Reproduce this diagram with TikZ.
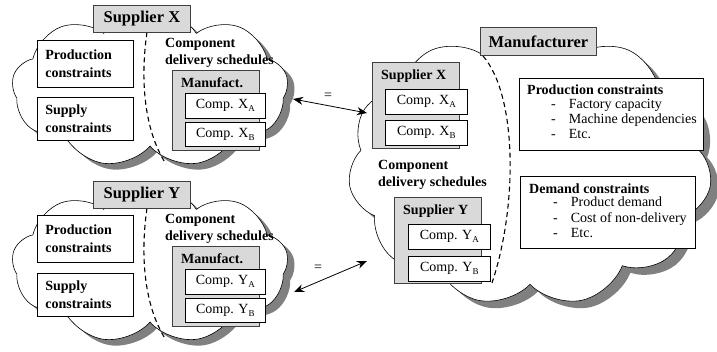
\documentclass[tikz,border=0pt]{standalone}
\usepackage{fontspec}
\setmainfont{Liberation Serif}
\usetikzlibrary{shapes.symbols,arrows.meta}

\definecolor{boxgrey}{HTML}{D9D9D9}
\definecolor{shadowgrey}{HTML}{808080}
\definecolor{edgegrey}{HTML}{404040}

% small lowered index letter for component names
\newcommand{\lowidx}[1]{\raisebox{-0.4ex}{\fontsize{9}{9}\selectfont #1}}

\begin{document}
\begin{tikzpicture}[x=1pt,y=-1pt,
  puff/.style={cloud, cloud puff arc=115, inner sep=0pt, cloud ignores aspect},
  cloudbody/.style={puff, draw=black, line width=0.6pt, fill=white},
  cloudshade/.style={puff, fill=shadowgrey, draw=none},
  titlebox/.style={draw=edgegrey, fill=boxgrey, line width=0.8pt, inner sep=0pt,
    font=\fontsize{16.5}{18}\selectfont\bfseries, anchor=north west},
  groupbox/.style={draw=edgegrey, fill=boxgrey, line width=0.8pt, inner sep=0pt, anchor=north west},
  whitebox/.style={draw=black, fill=white, line width=0.7pt, inner sep=0pt, anchor=north west},
  compbox/.style={whitebox, font=\fontsize{14}{16}\selectfont},
  constbox/.style={whitebox, font=\fontsize{14}{18}\selectfont\bfseries, align=left,
    text width=80pt, inner xsep=8pt},
  bold14/.style={font=\fontsize{14}{17}\selectfont\bfseries, align=left, inner sep=0pt},
  divider/.style={draw=black, line width=1.1pt, dash pattern=on 5pt off 3.5pt},
  link/.style={draw=black, line width=0.8pt, {Stealth[length=10pt,width=8pt]}-{Stealth[length=10pt,width=8pt]}},
  eqsign/.style={font=\fontsize{14}{14}\selectfont, inner sep=0pt}
]
\useasboundingbox (0,0) rectangle (717,352);

% ---------- clouds with their shadows ----------
\node[cloudshade, cloud puffs=9, minimum width=276pt, minimum height=160pt] (sxs) at (157,94) {};
\node[cloudbody,  cloud puffs=9, minimum width=276pt, minimum height=160pt] (sxc) at (150,88) {};
\node[cloudshade, cloud puffs=9, minimum width=276pt, minimum height=160pt] (sys) at (157,270) {};
\node[cloudbody,  cloud puffs=9, minimum width=276pt, minimum height=160pt] (syc) at (150,264) {};
\node[cloudshade, cloud puffs=11, minimum width=364pt, minimum height=278pt] (mfs) at (538,174) {};
\node[cloudbody,  cloud puffs=11, minimum width=364pt, minimum height=278pt] (mfc) at (530,167) {};

% ---------- supplier X ----------
\coordinate (sxd1) at (147,32);
\coordinate (sxd2) at (166,164);
\draw[divider] (sxd1) .. controls (139,88) and (147,135) .. (sxd2);
\node[titlebox, minimum width=97pt, minimum height=27pt] (sxt) at (93,5) {Supplier X};
\node[constbox, minimum height=47pt] (sxp) at (37,40) {Production\\constraints};
\node[constbox, minimum height=43pt] (sxs1) at (37,97) {Supply\\constraints};
\node[bold14, anchor=north west] (sxl) at (165,38) {Component\\delivery schedules};
\node[groupbox, minimum width=87pt, minimum height=80pt] (sxm) at (172,70) {};
\node[bold14, anchor=west] (sxmt) at (181,83) {Manufact.};
\node[compbox, minimum width=80pt, minimum height=25pt] (sxa) at (185,93) {Comp. X\lowidx{A}};
\node[compbox, minimum width=80pt, minimum height=24pt] (sxb) at (185,122) {Comp. X\lowidx{B}};

% ---------- supplier Y ----------
\coordinate (syd1) at (147,208);
\coordinate (syd2) at (166,340);
\draw[divider] (syd1) .. controls (139,264) and (147,311) .. (syd2);
\node[titlebox, minimum width=97pt, minimum height=27pt] (syt) at (93,181) {Supplier Y};
\node[constbox, minimum height=47pt] (syp) at (37,215) {Production\\constraints};
\node[constbox, minimum height=43pt] (sys1) at (37,273) {Supply\\constraints};
\node[bold14, anchor=north west] (syl) at (165,214) {Component\\delivery schedules};
\node[groupbox, minimum width=87pt, minimum height=80pt] (sym) at (172,246) {};
\node[bold14, anchor=west] (symt) at (181,259) {Manufact.};
\node[compbox, minimum width=80pt, minimum height=25pt] (sya) at (185,269) {Comp. Y\lowidx{A}};
\node[compbox, minimum width=80pt, minimum height=24pt] (syb) at (185,298) {Comp. Y\lowidx{B}};

% ---------- manufacturer ----------
\coordinate (mfd1) at (483,56);
\coordinate (mfd2) at (492,283);
\draw[divider] (mfd1) .. controls (517,95) and (518,205) .. (mfd2);
\node[titlebox, minimum width=116pt, minimum height=28pt] (mft) at (480,27) {Manufacturer};

\node[groupbox, minimum width=87pt, minimum height=86pt] (mx) at (372,62) {};
\node[bold14, anchor=west] (mxt) at (381,76) {Supplier X};
\node[compbox, minimum width=82pt, minimum height=25pt] (mxa) at (385,89) {Comp. X\lowidx{A}};
\node[compbox, minimum width=82pt, minimum height=25pt] (mxb) at (385,120) {Comp. X\lowidx{B}};

\node[bold14, anchor=north west] (mfl) at (378,160) {Component\\delivery schedules};

\node[groupbox, minimum width=87pt, minimum height=86pt] (my) at (394,197) {};
\node[bold14, anchor=west] (myt) at (403,211) {Supplier Y};
\node[compbox, minimum width=82pt, minimum height=25pt] (mya) at (408,224) {Comp. Y\lowidx{A}};
\node[compbox, minimum width=82pt, minimum height=25pt] (myb) at (408,256) {Comp. Y\lowidx{B}};

\node[whitebox, minimum width=184pt, minimum height=72pt] (mpc) at (519,78) {};
\node[bold14, anchor=west] (mpct) at (527,90) {Production constraints};
\node[font=\fontsize{14}{15}\selectfont, anchor=north west, inner sep=0pt, align=left] (mpcl) at (551,99)
  {-\hspace{13pt}Factory capacity\\-\hspace{13pt}Machine dependencies\\-\hspace{13pt}Etc.};

\node[whitebox, minimum width=175pt, minimum height=72pt] (mdc) at (520,176) {};
\node[bold14, anchor=west] (mdct) at (529,189) {Demand constraints};
\node[font=\fontsize{14}{15.5}\selectfont, anchor=north west, inner sep=0pt, align=left] (mdcl) at (553,197)
  {-\hspace{13pt}Product demand\\-\hspace{13pt}Cost of non-delivery\\-\hspace{13pt}Etc.};

% ---------- links between supplier and manufacturer schedules ----------
\coordinate (lx1) at (293,99);
\coordinate (lx2) at (367,113);
\draw[link] (lx1) -- (lx2);
\node[eqsign] (eqx) at (328,96) {=};
\coordinate (ly1) at (294,292);
\coordinate (ly2) at (367,261);
\draw[link] (ly1) -- (ly2);
\node[eqsign] (eqy) at (318,268) {=};
\end{tikzpicture}
\end{document}
